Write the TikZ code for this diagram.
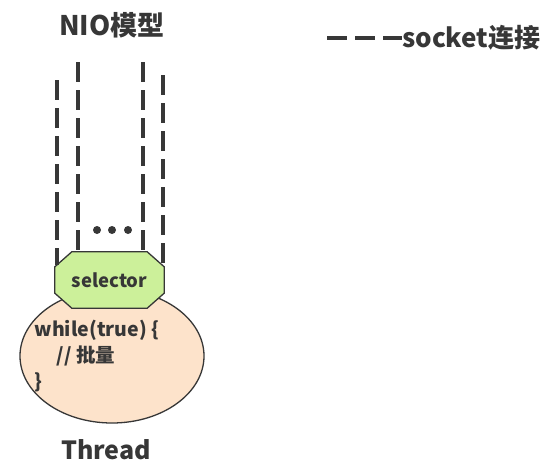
\documentclass[tikz,border=0pt]{standalone}
\usepackage{fontspec}
\setmainfont{Noto Sans CJK SC}
\usepackage{xcolor}
\usetikzlibrary{shapes.geometric,positioning,calc}
\definecolor{inkgray}{RGB}{55,55,55}
\definecolor{selgreen}{RGB}{204,240,154}
\definecolor{threadpeach}{RGB}{253,227,203}
\tikzset{
  socketline/.style={line width=3.5pt, inkgray, dash pattern=on 20pt off 8pt},
  outline/.style={draw=inkgray, line width=1.3pt},
}

\begin{document}
\begin{tikzpicture}[x=1pt,y=-1pt,font=\bfseries,text=inkgray]
    \useasboundingbox (0,0) rectangle (550,469);
    \node (title) at (112,25) {\fontsize{27}{30}\selectfont NIO模型};

    % Thread
    \node[ellipse, outline, fill=threadpeach, inner sep=0, minimum width=184pt, minimum height=134pt] (thread) at (112,356) {};
    \node[anchor=west] (loop1) at (31,330) {\fontsize{19.5}{22}\selectfont while(true) \{};
    \node[anchor=west] (loop2) at (53,356) {\fontsize{19.5}{22}\selectfont // 批量};
    \node[anchor=west] (loop3) at (31,382) {\fontsize{19.5}{22}\selectfont \}};
    \node (threadname) at (106,450) {\fontsize{25}{28}\selectfont Thread};

    % Selector
    \node[minimum width=109pt, minimum height=56pt] (sel) at (109.5,280) {};
    \draw[outline, fill=selgreen] ([xshift=17pt]sel.north west) -- ([xshift=-17pt]sel.north east)
        -- ([yshift=-15pt]sel.north east) -- ([yshift=15pt]sel.south east)
        -- ([xshift=-17pt]sel.south east) -- ([xshift=17pt]sel.south west)
        -- ([yshift=15pt]sel.south west) -- ([yshift=-15pt]sel.north west) -- cycle;
    \node (sellabel) at (sel.center) {\fontsize{18.5}{21}\selectfont selector};

    % Sockets
    \foreach \n/\x/\ytop/\ybot in {1/57/80/265, 2/78/62/252, 3/143/62/252, 4/163/75/265} {
        \coordinate (t\n) at (\x,\ytop);
        \coordinate (b\n) at (\x,\ybot);
        \draw[socketline] (t\n) -- (b\n);
    }
    \foreach \i/\x in {1/97, 2/112, 3/128}
        \node[circle, fill=inkgray, inner sep=0, minimum size=8pt] (dot\i) at (\x,230) {};

    % Legend
    \coordinate (leg) at (327,38);
    \node[anchor=west, inner sep=0] (legtext) at (402,38) {\fontsize{26}{29}\selectfont socket连接};
    \draw[socketline, line width=4pt] (leg) -- (legtext.west);
\end{tikzpicture}
\end{document}
